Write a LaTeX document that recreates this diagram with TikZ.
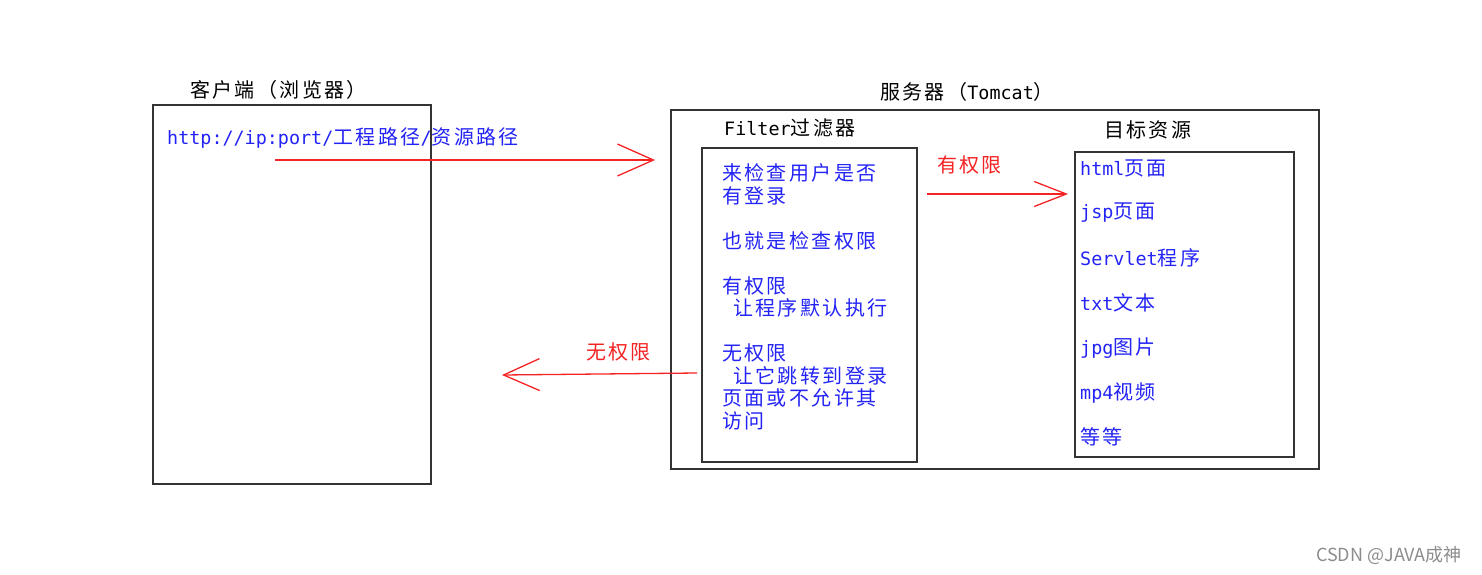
\documentclass[tikz,border=0pt]{standalone}
\usepackage{fontspec}
\setmainfont[Scale=0.92]{DejaVu Sans Mono}
\newfontfamily\cjk[LetterSpace=12]{Noto Sans CJK SC}
\newfontfamily\markfont{Noto Sans CJK SC}
\usepackage{tikz}
\usetikzlibrary{arrows.meta}
\definecolor{textblue}{RGB}{35,35,245}
\definecolor{arrowred}{RGB}{245,35,35}

\begin{document}
\begin{tikzpicture}[x=1pt, y=-1pt,
  my box/.style={draw=black!80, line width=1.5pt, anchor=north west, inner sep=0pt},
  my title/.style={anchor=west, inner sep=0pt, font=\fontsize{20}{22.5}\selectfont},
  my text/.style={my title, text=textblue},
  my label/.style={my title, text=arrowred},
  my arrow/.style={draw=arrowred, line width=1.3pt, -{Straight Barb[length=36pt,width=32pt]}},
  ]
  \useasboundingbox (0,0) rectangle (1482,574);
  % client side
  \node[my box, minimum width=278pt, minimum height=379pt] (client) at (152,104) {};
  \node[my title] (client title) at (190,90) {\cjk 客户端（浏览器）};
  \node[my text] (url) at (167,138) {http://ip:port/{\cjk 工程路径}/{\cjk 资源路径}};
  % server side
  \node[my box, minimum width=648pt, minimum height=359pt] (server) at (670,109) {};
  \node[my title] (server title) at (880,92) {{\cjk 服务器（}Tomcat{\cjk ）}};
  \node[my title] (filter title) at (724,128) {Filter{\cjk 过滤器}};
  \node[my box, minimum width=215pt, minimum height=314pt] (filter) at (701,147) {};
  \node[my text, align=left] (check) at (722,297) {\cjk 来检查用户是否\\\cjk 有登录\\[22.5pt]
    \cjk 也就是检查权限\\[22.5pt]
    \cjk 有权限\\\hspace*{11pt}\cjk 让程序默认执行\\[22.5pt]
    \cjk 无权限\\\hspace*{11pt}\cjk 让它跳转到登录\\\cjk 页面或不允许其\\\cjk 访问};
  \node[my title] (target title) at (1104,130) {\cjk 目标资源};
  \node[my box, minimum width=219pt, minimum height=305pt] (target) at (1074,151) {};
  \node[my text] (html) at (1080,168) {html{\cjk 页面}};
  \node[my text] (jsp) at (1080,213) {jsp{\cjk 页面}};
  \node[my text] (servlet) at (1080,258) {Servlet{\cjk 程序}};
  \node[my text] (txt) at (1080,303) {txt{\cjk 文本}};
  \node[my text] (jpg) at (1080,348) {jpg{\cjk 图片}};
  \node[my text] (mp4) at (1080,393) {mp4{\cjk 视频}};
  \node[my text] (etc) at (1080,437) {\cjk 等等};
  % arrows
  \coordinate (req start) at (275,160);
  \coordinate (req end) at (655,160);
  \draw[my arrow] (req start) -- (req end);
  \coordinate (pass start) at (927,194);
  \coordinate (pass end) at (1068,194);
  \draw[my arrow, -{Straight Barb[length=32pt,width=25pt]}] (pass start) -- (pass end);
  \node[my label] (pass) at (937,165) {\cjk 有权限};
  \coordinate (deny start) at (697,373);
  \coordinate (deny end) at (502,375);
  \draw[my arrow] (deny start) -- (deny end);
  \node[my label] (deny) at (586,352) {\cjk 无权限};
  \node[anchor=west, inner sep=0pt, text=black!45, font=\markfont\fontsize{18}{20}\selectfont] (mark) at (1316,555) {CSDN @JAVA成神};
\end{tikzpicture}
\end{document}
